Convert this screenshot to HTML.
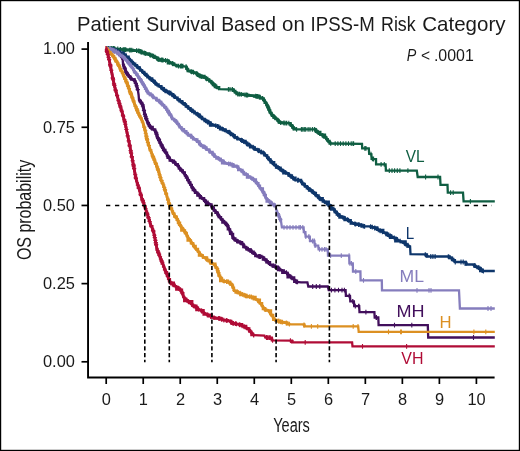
<!DOCTYPE html>
<html><head><meta charset="utf-8"><style>
html,body{margin:0;padding:0;background:#fff;}
svg{display:block;}
text{font-family:"Liberation Sans",sans-serif;}
</style></head><body>
<svg width="520" height="451" viewBox="0 0 520 451">
<rect x="0" y="0" width="520" height="451" fill="#fff"/>
<rect x="0.6" y="0.6" width="518.8" height="449.8" fill="none" stroke="#000" stroke-width="1.2"/>
<path d="M106.00,48.50 L112.00,49.50 L117.00,52.00 L121.00,55.50 L122.60,58.50M123.00,63.60 L124.30,67.30 L126.20,72.00 L129.00,76.60 L132.70,79.40 L135.00,81.30 L136.40,85.00 L137.80,89.70M139.00,100.00 L142.00,103.00 L143.50,108.00 L144.50,113.00 L146.00,118.00 L148.00,123.00 L150.00,127.00 L153.50,129.40 L156.00,132.00 L157.00,136.00 L159.00,140.00 L160.30,142.90 L163.90,150.00 L167.40,155.30 L171.00,160.60 L174.50,162.40 L178.00,166.00 L180.00,168.50 L183.50,172.40 L187.10,177.70 L190.60,184.80 L194.20,190.20 L199.50,195.50 L204.80,200.80 L210.20,204.30 L215.00,210.50 L218.30,215.00 L221.70,219.40 L225.00,222.70 L227.20,225.00 L229.40,229.40 L231.60,233.80 L233.30,238.30 L236.10,240.50 L239.40,242.10 L242.70,243.80 L244.90,247.10 L248.30,249.30 L251.60,251.60 L255.00,253.80 L256.60,256.00 L261.90,256.90 L265.50,259.60 L270.80,264.90 L276.10,266.70 L281.40,270.20 L286.80,272.90 L291.20,277.30 L296.50,281.80" fill="none" stroke="#420f5c" stroke-width="2.8" stroke-linejoin="round" stroke-linecap="butt"/>
<path d="M106.00,48.50 L108.77,48.50 L108.77,49.50 L112.00,49.50 L114.74,49.50 L114.74,52.00 L117.00,52.00 L118.68,52.00 L118.68,53.75 L119.95,53.75 L119.95,55.50 L121.00,55.50 L121.41,55.50 L121.41,57.00 L122.26,57.00 L122.26,58.50 L122.60,58.50 L123.00,63.60 L123.16,63.60 L123.16,65.45 L123.98,65.45 L123.98,67.30 L124.30,67.30 L124.68,67.30 L124.68,68.87 L125.40,68.87 L125.40,70.43 L125.68,70.43 L125.68,72.00 L126.20,72.00 L126.52,72.00 L126.52,73.53 L127.29,73.53 L127.29,75.07 L128.76,75.07 L128.76,76.60 L129.00,76.60 L130.21,76.60 L130.21,78.00 L131.10,78.00 L131.10,79.40 L132.70,79.40 L134.74,79.40 L134.74,81.30 L135.00,81.30 L135.61,81.30 L135.61,83.15 L136.14,83.15 L136.14,85.00 L136.40,85.00 L136.68,85.00 L136.68,86.57 L136.97,86.57 L136.97,88.13 L137.39,88.13 L137.39,89.70 L137.80,89.70 L138.60,95.00 L139.00,100.00 L139.78,100.00 L139.78,101.50 L140.72,101.50 L140.72,103.00 L142.00,103.00 L142.13,103.00 L142.13,104.67 L142.65,104.67 L142.65,106.33 L143.06,106.33 L143.06,108.00 L143.50,108.00 L143.66,108.00 L143.66,109.67 L143.98,109.67 L143.98,111.33 L144.42,111.33 L144.42,113.00 L144.50,113.00 L144.76,113.00 L144.76,114.67 L145.31,114.67 L145.31,116.33 L145.75,116.33 L145.75,118.00 L146.00,118.00 L146.42,118.00 L146.42,119.67 L146.98,119.67 L146.98,121.33 L147.55,121.33 L147.55,123.00 L148.00,123.00 L148.90,123.00 L148.90,125.00 L149.90,125.00 L149.90,127.00 L150.00,127.00 L152.70,127.00 L152.70,129.40 L153.50,129.40 L155.17,129.40 L155.17,132.00 L156.00,132.00 L156.18,132.00 L156.18,134.00 L156.64,134.00 L156.64,136.00 L157.00,136.00 L157.33,136.00 L157.33,138.00 L158.16,138.00 L158.16,140.00 L159.00,140.00 L159.93,140.00 L159.93,142.90 L160.30,142.90 L160.80,142.90 L160.80,145.27 L162.43,145.27 L162.43,147.63 L163.19,147.63 L163.19,150.00 L163.90,150.00 L165.42,150.00 L165.42,152.65 L167.01,152.65 L167.01,155.30 L167.40,155.30 L167.58,155.30 L167.58,157.95 L169.68,157.95 L169.68,160.60 L171.00,160.60 L173.90,160.60 L173.90,162.40 L174.50,162.40 L175.33,162.40 L175.33,164.20 L177.80,164.20 L177.80,166.00 L178.00,166.00 L178.84,166.00 L178.84,168.50 L180.00,168.50 L180.28,168.50 L180.28,170.45 L182.81,170.45 L182.81,172.40 L183.50,172.40 L184.80,172.40 L184.80,175.05 L185.87,175.05 L185.87,177.70 L187.10,177.70 L187.30,177.70 L187.30,180.07 L188.69,180.07 L188.69,182.43 L190.45,182.43 L190.45,184.80 L190.60,184.80 L191.87,184.80 L191.87,187.50 L192.75,187.50 L192.75,190.20 L194.20,190.20 L194.99,190.20 L194.99,192.85 L197.33,192.85 L197.33,195.50 L199.50,195.50 L199.89,195.50 L199.89,198.15 L204.10,198.15 L204.10,200.80 L204.80,200.80 L206.11,200.80 L206.11,204.30 L210.20,204.30 L211.51,204.30 L211.51,207.40 L213.70,207.40 L213.70,210.50 L215.00,210.50 L215.42,210.50 L215.42,212.75 L217.78,212.75 L217.78,215.00 L218.30,215.00 L218.65,215.00 L218.65,217.20 L221.05,217.20 L221.05,219.40 L221.70,219.40 L222.34,219.40 L222.34,222.70 L225.00,222.70 L225.96,222.70 L225.96,225.00 L227.20,225.00 L227.79,225.00 L227.79,229.40 L229.40,229.40 L230.09,229.40 L230.09,233.80 L231.60,233.80 L233.09,233.80 L233.09,238.30 L233.30,238.30 L235.38,238.30 L235.38,240.50 L236.10,240.50 L237.23,240.50 L237.23,242.10 L239.40,242.10 L242.07,242.10 L242.07,243.80 L242.70,243.80 L243.29,243.80 L243.29,247.10 L244.90,247.10 L246.31,247.10 L246.31,249.30 L248.30,249.30 L250.89,249.30 L250.89,251.60 L251.60,251.60 L253.69,251.60 L253.69,253.80 L255.00,253.80 L255.29,253.80 L255.29,256.00 L256.60,256.00 L261.32,256.00 L261.32,256.90 L261.90,256.90 L262.87,256.90 L262.87,259.60 L265.50,259.60 L266.31,259.60 L266.31,262.25 L270.05,262.25 L270.05,264.90 L270.80,264.90 L272.72,264.90 L272.72,266.70 L276.10,266.70 L277.89,266.70 L277.89,270.20 L281.40,270.20 L282.26,270.20 L282.26,272.90 L286.80,272.90 L287.56,272.90 L287.56,277.30 L291.20,277.30 L294.20,277.30 L294.20,281.80 L296.50,281.80 L301.00,282.30 L307.40,282.30 L308.30,286.50 L327.80,286.50 L328.70,290.10 L345.60,290.10 L345.90,295.90 L350.00,295.90 L350.30,301.30 L353.90,301.30 L354.20,306.20 L359.20,306.20 L359.50,312.20 L374.40,312.20 L374.70,317.50 L378.30,317.50 L378.60,325.10 L427.80,325.10 L428.20,337.50 L494.80,337.50" fill="none" stroke="#420f5c" stroke-width="2.3" stroke-linejoin="miter" stroke-miterlimit="3"/>
<path d="M106.91,46.25v4.8M109.91,46.75v4.8M106.43,46.17v4.8M109.22,46.64v4.8M112.29,47.24v4.8M114.54,48.37v4.8M112.19,47.19v4.8M117.28,49.84v4.8M117.36,49.92v4.8M118.70,51.09v4.8M119.10,55.87h4.2M122.00,54.98v4.8M123.52,62.67v4.8M123.06,61.37v4.8M122.47,67.98h4.2M124.89,66.35v4.8M122.54,68.15h4.2M125.14,73.71h4.2M124.28,72.29h4.2M124.68,72.95h4.2M130.16,75.08v4.8M131.17,75.84v4.8M130.68,75.47v4.8M134.53,78.51v4.8M134.31,78.33v4.8M133.70,83.43h4.2M136.23,82.14v4.8M135.67,89.61h4.2M136.99,84.57v4.8M134.51,85.71h4.2M141.00,99.60v4.8M141.29,99.89v4.8M140.72,99.32v4.8M140.37,104.57h4.2M140.79,105.97h4.2M144.34,109.80v4.8M141.87,110.37h4.2M143.56,105.90v4.8M145.99,115.57v4.8M142.83,114.42h4.2M143.40,116.34h4.2M144.24,118.84h4.2M146.12,115.89v4.8M144.16,118.65h4.2M147.64,126.49h4.2M146.80,124.80h4.2M149.77,124.13v4.8M150.97,125.27v4.8M151.45,125.60v4.8M155.71,129.30v4.8M155.89,129.49v4.8M154.08,132.70h4.2M154.13,132.93h4.2M154.49,134.36h4.2M155.74,137.68h4.2M158.13,135.87v4.8M156.28,138.76h4.2M157.78,141.96h4.2M160.17,140.21v4.8M161.07,148.56h4.2M159.64,145.73h4.2M160.48,147.40h4.2M158.44,143.38h4.2M162.99,151.80h4.2M161.80,150.00h4.2M162.16,150.54h4.2M163.99,147.74v4.8M165.83,156.09h4.2M166.55,157.14h4.2M167.84,153.55v4.8M172.63,159.04v4.8M172.69,159.07v4.8M174.86,160.37v4.8M175.70,161.23v4.8M175.43,160.95v4.8M178.32,164.00v4.8M183.33,169.81v4.8M181.85,168.16v4.8M180.51,166.67v4.8M181.50,172.54h4.2M187.02,175.19v4.8M183.91,176.09h4.2M187.68,176.49v4.8M188.96,179.08v4.8M186.15,180.04h4.2M189.94,181.06v4.8M193.50,186.75v4.8M191.16,188.80h4.2M190.36,187.60h4.2M194.35,187.95v4.8M195.68,189.28v4.8M195.57,189.17v4.8M197.87,191.47v4.8M199.27,192.87v4.8M204.47,198.07v4.8M204.74,198.34v4.8M204.56,198.16v4.8M201.43,195.03v4.8M206.02,199.19v4.8M205.86,199.09v4.8M205.90,199.12v4.8M208.17,200.58v4.8M214.23,207.11v4.8M212.50,204.87v4.8M213.33,205.95v4.8M214.04,206.86v4.8M217.18,211.07v4.8M218.00,212.19v4.8M217.58,211.62v4.8M219.93,214.70v4.8M218.91,213.39v4.8M220.98,216.07v4.8M224.34,219.64v4.8M224.91,220.21v4.8M223.01,218.31v4.8M227.08,222.48v4.8M226.59,221.97v4.8M225.38,225.56h4.2M229.19,226.58v4.8M227.52,223.24v4.8M228.75,232.29h4.2M228.51,231.81h4.2M231.15,238.17h4.2M232.50,233.77v4.8M232.34,233.35v4.8M233.89,236.36v4.8M234.01,236.45v4.8M236.89,238.48v4.8M238.04,239.04v4.8M240.78,240.41v4.8M239.83,239.92v4.8M241.38,244.97h4.2M243.98,243.33v4.8M248.02,246.72v4.8M246.61,245.80v4.8M250.03,248.10v4.8M248.36,246.94v4.8M252.22,249.60v4.8M251.61,249.21v4.8M255.28,251.78v4.8M260.44,254.25v4.8M259.55,254.10v4.8M258.33,253.89v4.8M263.90,256.00v4.8M264.72,256.62v4.8M268.47,260.17v4.8M266.82,258.52v4.8M266.97,258.67v4.8M269.59,261.29v4.8M268.19,259.89v4.8M274.83,263.87v4.8M275.64,264.14v4.8M273.15,263.30v4.8M278.78,266.07v4.8M278.81,266.09v4.8M279.77,266.72v4.8M284.28,269.24v4.8M283.98,269.09v4.8M286.48,270.34v4.8M290.66,274.36v4.8M290.95,274.65v4.8M287.94,271.64v4.8M296.20,279.14v4.8M295.65,278.68v4.8M291.93,275.52v4.8M291.84,275.45v4.8M296.83,279.44v4.8M297.58,279.52v4.8M296.83,279.44v4.8M349.11,293.50v4.8M349.58,293.50v4.8M352.88,298.90v4.8M352.68,298.90v4.8M358.61,303.80v4.8M359.04,303.80v4.8M355.30,303.80v4.8M376.13,315.10v4.8M376.45,315.10v4.8M312.70,284.10v4.8M316.30,284.10v4.8M319.80,284.10v4.8M331.40,287.70v4.8M334.90,287.70v4.8M338.50,287.70v4.8M342.00,287.70v4.8M344.40,287.70v4.8M365.90,309.80v4.8M394.50,322.70v4.8M411.80,322.70v4.8M473.50,335.10v4.8" stroke="#420f5c" stroke-width="1.1" fill="none"/>
<path d="M112.00,48.30 L120.00,49.30 L129.30,50.00 L138.60,50.80 L145.20,53.30 L153.20,56.00 L158.50,59.50 L166.70,60.60 L172.00,63.30 L177.30,66.30M186.00,66.60 L188.60,71.00 L194.60,72.60 L199.90,75.90 L205.20,77.90 L210.50,81.20 L214.50,85.00 L219.50,89.20M232.40,89.30 L237.70,94.00 L244.80,94.80 L251.90,95.70 L259.00,96.60 L262.60,98.40 L266.10,102.80 L268.80,109.00 L271.40,114.30 L275.00,117.50 L280.30,122.50 L285.60,123.20M290.00,123.20 L293.00,127.50 L296.30,129.30M314.80,129.30 L317.50,131.90 L321.00,134.60 L325.50,137.30 L328.10,140.80 L330.80,143.50" fill="none" stroke="#0f5e42" stroke-width="2.8" stroke-linejoin="round" stroke-linecap="butt"/>
<path d="M106.00,48.50 L112.00,48.30 L114.36,48.30 L114.36,49.30 L120.00,49.30 L125.40,49.30 L125.40,50.00 L129.30,50.00 L133.00,50.00 L133.00,50.80 L138.60,50.80 L141.65,50.80 L141.65,53.30 L145.20,53.30 L148.67,53.30 L148.67,54.65 L151.15,54.65 L151.15,56.00 L153.20,56.00 L154.68,56.00 L154.68,57.75 L157.95,57.75 L157.95,59.50 L158.50,59.50 L160.52,59.50 L160.52,60.60 L166.70,60.60 L167.88,60.60 L167.88,63.30 L172.00,63.30 L174.19,63.30 L174.19,64.80 L176.65,64.80 L176.65,66.30 L177.30,66.30 L181.30,66.00 L186.00,66.60 L186.39,66.60 L186.39,68.80 L187.63,68.80 L187.63,71.00 L188.60,71.00 L192.75,71.00 L192.75,72.60 L194.60,72.60 L196.86,72.60 L196.86,74.25 L197.93,74.25 L197.93,75.90 L199.90,75.90 L204.46,75.90 L204.46,77.90 L205.20,77.90 L207.34,77.90 L207.34,79.55 L209.39,79.55 L209.39,81.20 L210.50,81.20 L211.37,81.20 L211.37,83.10 L212.87,83.10 L212.87,85.00 L214.50,85.00 L214.83,85.00 L214.83,87.10 L219.18,87.10 L219.18,89.20 L219.50,89.20 L227.10,89.30 L232.40,89.30 L232.91,89.30 L232.91,90.87 L235.34,90.87 L235.34,92.43 L236.47,92.43 L236.47,94.00 L237.70,94.00 L243.09,94.00 L243.09,94.80 L244.80,94.80 L248.90,94.80 L248.90,95.70 L251.90,95.70 L254.28,95.70 L254.28,96.60 L259.00,96.60 L259.87,96.60 L259.87,98.40 L262.60,98.40 L263.78,98.40 L263.78,100.60 L264.62,100.60 L264.62,102.80 L266.10,102.80 L266.35,102.80 L266.35,104.87 L267.49,104.87 L267.49,106.93 L268.60,106.93 L268.60,109.00 L268.80,109.00 L269.31,109.00 L269.31,110.77 L269.95,110.77 L269.95,112.53 L271.26,112.53 L271.26,114.30 L271.40,114.30 L271.87,114.30 L271.87,115.90 L273.40,115.90 L273.40,117.50 L275.00,117.50 L275.56,117.50 L275.56,119.17 L277.57,119.17 L277.57,120.83 L278.80,120.83 L278.80,122.50 L280.30,122.50 L281.58,122.50 L281.58,123.20 L285.60,123.20 L290.00,123.20 L290.59,123.20 L290.59,125.35 L292.34,125.35 L292.34,127.50 L293.00,127.50 L293.68,127.50 L293.68,129.30 L296.30,129.30 L314.80,129.30 L315.85,129.30 L315.85,131.90 L317.50,131.90 L320.34,131.90 L320.34,134.60 L321.00,134.60 L324.98,134.60 L324.98,137.30 L325.50,137.30 L326.31,137.30 L326.31,139.05 L327.65,139.05 L327.65,140.80 L328.10,140.80 L329.63,140.80 L329.63,143.50 L330.80,143.50 L362.00,143.80 L362.20,148.40 L368.80,148.40 L369.20,154.00 L371.40,154.20 L371.60,158.90 L376.00,159.10 L376.10,164.30 L385.60,164.30 L385.90,170.60 L416.80,170.60 L417.70,177.00 L440.10,177.00 L440.50,184.90 L447.50,184.90 L447.80,192.60 L463.00,192.60 L463.60,201.30 L494.80,201.30" fill="none" stroke="#0f5e42" stroke-width="2.3" stroke-linejoin="miter" stroke-miterlimit="3"/>
<path d="M110.99,45.93v4.8M106.97,46.07v4.8M108.59,46.01v4.8M114.71,46.24v4.8M113.57,46.10v4.8M114.55,46.22v4.8M117.78,46.62v4.8M112.16,45.92v4.8M124.10,47.21v4.8M120.17,46.91v4.8M123.08,47.13v4.8M125.80,47.34v4.8M124.76,47.26v4.8M120.60,46.95v4.8M136.63,48.23v4.8M138.34,48.38v4.8M130.27,47.68v4.8M131.77,47.81v4.8M129.67,47.63v4.8M136.54,48.22v4.8M139.46,48.72v4.8M141.39,49.46v4.8M144.62,50.68v4.8M144.01,50.45v4.8M140.31,49.05v4.8M152.55,53.38v4.8M149.76,52.44v4.8M150.80,52.79v4.8M145.92,51.14v4.8M145.66,51.06v4.8M150.71,52.76v4.8M153.58,53.85v4.8M158.17,56.88v4.8M156.56,55.82v4.8M157.45,56.41v4.8M165.52,58.04v4.8M159.05,57.17v4.8M165.57,58.05v4.8M162.22,57.60v4.8M161.28,57.47v4.8M163.04,57.71v4.8M168.12,58.92v4.8M167.38,58.55v4.8M169.49,59.62v4.8M172.58,61.23v4.8M172.86,61.38v4.8M172.27,61.05v4.8M173.07,61.51v4.8M178.52,63.81v4.8M180.34,63.67v4.8M178.46,63.81v4.8M182.14,63.71v4.8M182.93,63.81v4.8M181.39,63.61v4.8M186.04,64.27v4.8M185.33,69.02h4.2M187.23,66.29v4.8M186.28,64.67v4.8M191.57,69.39v4.8M193.61,69.94v4.8M190.96,69.23v4.8M191.64,69.41v4.8M199.81,73.44v4.8M196.42,71.33v4.8M199.01,72.95v4.8M198.35,72.53v4.8M202.04,74.31v4.8M201.74,74.20v4.8M200.19,73.61v4.8M200.59,73.76v4.8M209.13,77.94v4.8M206.55,76.34v4.8M206.07,76.04v4.8M205.65,75.78v4.8M213.98,82.11v4.8M213.18,81.35v4.8M211.63,79.87v4.8M215.97,83.83v4.8M216.80,84.53v4.8M215.29,83.26v4.8M216.73,84.47v4.8M215.82,83.71v4.8M232.25,86.90v4.8M230.00,86.90v4.8M228.40,86.90v4.8M234.04,88.35v4.8M234.29,88.58v4.8M232.41,86.91v4.8M234.42,88.69v4.8M241.27,92.00v4.8M239.13,91.76v4.8M241.28,92.00v4.8M237.74,91.60v4.8M239.58,91.81v4.8M247.64,92.76v4.8M245.10,92.44v4.8M244.96,92.42v4.8M246.96,92.67v4.8M246.45,92.61v4.8M255.66,93.78v4.8M257.23,93.98v4.8M256.57,93.89v4.8M256.98,93.94v4.8M258.14,94.09v4.8M260.17,94.79v4.8M262.55,95.97v4.8M259.54,94.47v4.8M264.85,98.83v4.8M262.75,96.19v4.8M265.52,99.68v4.8M267.79,104.29v4.8M266.19,107.84h4.2M265.41,106.05h4.2M268.35,105.58v4.8M270.32,109.70v4.8M268.48,112.62h4.2M267.30,110.22h4.2M267.05,109.71h4.2M274.41,114.57v4.8M273.41,113.69v4.8M273.66,113.91v4.8M273.65,113.90v4.8M277.59,117.55v4.8M275.02,115.12v4.8M279.23,119.09v4.8M278.97,118.84v4.8M277.67,117.61v4.8M283.79,120.56v4.8M280.65,120.15v4.8M284.20,120.62v4.8M285.93,120.80v4.8M286.77,120.80v4.8M288.81,120.80v4.8M292.22,123.98v4.8M289.38,125.32h4.2M289.34,125.26h4.2M290.20,126.50h4.2M293.26,125.24v4.8M293.49,125.37v4.8M316.81,128.83v4.8M315.62,127.69v4.8M316.33,128.38v4.8M317.71,129.66v4.8M318.44,130.23v4.8M319.85,131.31v4.8M324.04,134.02v4.8M322.31,132.99v4.8M323.32,133.59v4.8M326.71,136.53v4.8M325.81,135.31v4.8M327.82,138.03v4.8M330.74,141.04v4.8M330.63,140.93v4.8M328.15,138.45v4.8M371.00,151.76v4.8M373.58,156.59v4.8M372.78,156.55v4.8M296.60,126.90v4.8M301.40,126.90v4.8M302.80,126.90v4.8M304.30,126.90v4.8M305.70,126.90v4.8M308.10,126.90v4.8M310.00,126.90v4.8M312.40,126.90v4.8M314.40,126.90v4.8M353.60,141.32v4.8M364.80,146.00v4.8M366.00,146.00v4.8M372.40,156.54v4.8M381.10,161.90v4.8M384.30,161.90v4.8M335.20,141.14v4.8M337.90,141.17v4.8M340.50,141.19v4.8M343.20,141.22v4.8M345.90,141.25v4.8M348.50,141.27v4.8M351.20,141.30v4.8M353.00,141.31v4.8M389.30,168.20v4.8M392.00,168.20v4.8M394.60,168.20v4.8M397.30,168.20v4.8M399.90,168.20v4.8M407.90,168.20v4.8M425.60,174.60v4.8M438.00,174.60v4.8M450.60,190.20v4.8M453.20,190.20v4.8M470.40,198.90v4.8" stroke="#0f5e42" stroke-width="1.1" fill="none"/>
<path d="M106.00,48.50 L113.30,49.50 L119.00,51.50 L124.00,54.50 L129.00,58.90 L133.60,63.60 L138.30,67.30 L142.90,72.00 L146.70,75.70 L150.00,78.50 L153.00,80.80 L157.10,84.50 L164.20,89.80 L171.30,94.20 L178.40,99.50 L185.50,104.80 L190.80,110.00 L197.90,114.60 L203.30,119.00 L208.90,123.00 L216.00,125.70 L223.10,129.30 L230.20,132.80 L235.50,137.30 L242.60,140.80 L249.70,145.20 L256.80,149.70 L263.90,153.20 L269.30,159.50 L274.70,165.00 L281.90,170.30 L287.30,173.30 L292.60,177.70 L296.10,180.40M299.70,180.00 L303.20,184.00 L308.50,188.40 L313.90,192.80 L319.20,198.10 L324.50,201.70 L329.50,205.50 L334.20,209.50 L337.70,214.50 L343.10,217.50 L348.40,220.20 L353.70,223.70 L359.00,224.60 L364.30,226.40M369.70,226.40 L373.20,227.30 L378.50,229.90 L383.90,232.60 L389.20,235.20 L394.50,237.90 L400.60,241.40 L406.90,244.60 L410.10,246.70M425.00,254.40 L427.90,256.50M448.10,256.50 L451.00,258.00 L453.90,260.20 L455.30,262.00M465.40,262.00 L466.80,264.50M474.00,264.50 L475.50,266.60 L479.80,268.10 L482.70,271.00" fill="none" stroke="#0e366b" stroke-width="2.8" stroke-linejoin="round" stroke-linecap="butt"/>
<path d="M106.00,48.50 L107.55,48.50 L107.55,49.50 L113.30,49.50 L114.03,49.50 L114.03,51.50 L119.00,51.50 L119.29,51.50 L119.29,53.00 L123.57,53.00 L123.57,54.50 L124.00,54.50 L125.65,54.50 L125.65,56.70 L128.68,56.70 L128.68,58.90 L129.00,58.90 L129.18,58.90 L129.18,60.47 L131.47,60.47 L131.47,62.03 L132.81,62.03 L132.81,63.60 L133.60,63.60 L135.21,63.60 L135.21,65.45 L136.78,65.45 L136.78,67.30 L138.30,67.30 L139.68,67.30 L139.68,68.87 L140.08,68.87 L140.08,70.43 L142.19,70.43 L142.19,72.00 L142.90,72.00 L144.21,72.00 L144.21,73.85 L146.36,73.85 L146.36,75.70 L146.70,75.70 L147.84,75.70 L147.84,77.10 L149.44,77.10 L149.44,78.50 L150.00,78.50 L152.20,78.50 L152.20,80.80 L153.00,80.80 L154.71,80.80 L154.71,82.65 L155.83,82.65 L155.83,84.50 L157.10,84.50 L158.63,84.50 L158.63,86.27 L161.41,86.27 L161.41,88.03 L163.72,88.03 L163.72,89.80 L164.20,89.80 L165.74,89.80 L165.74,92.00 L170.35,92.00 L170.35,94.20 L171.30,94.20 L173.17,94.20 L173.17,95.97 L174.99,95.97 L174.99,97.73 L177.45,97.73 L177.45,99.50 L178.40,99.50 L179.36,99.50 L179.36,101.27 L182.11,101.27 L182.11,103.03 L184.52,103.03 L184.52,104.80 L185.50,104.80 L185.79,104.80 L185.79,106.53 L188.35,106.53 L188.35,108.27 L190.61,108.27 L190.61,110.00 L190.80,110.00 L192.70,110.00 L192.70,111.53 L194.78,111.53 L194.78,113.07 L196.51,113.07 L196.51,114.60 L197.90,114.60 L199.76,114.60 L199.76,116.80 L202.12,116.80 L202.12,119.00 L203.30,119.00 L204.57,119.00 L204.57,121.00 L208.26,121.00 L208.26,123.00 L208.90,123.00 L210.09,123.00 L210.09,125.70 L216.00,125.70 L218.49,125.70 L218.49,127.50 L219.99,127.50 L219.99,129.30 L223.10,129.30 L225.16,129.30 L225.16,131.05 L228.37,131.05 L228.37,132.80 L230.20,132.80 L230.95,132.80 L230.95,135.05 L234.60,135.05 L234.60,137.30 L235.50,137.30 L237.27,137.30 L237.27,139.05 L241.15,139.05 L241.15,140.80 L242.60,140.80 L245.57,140.80 L245.57,143.00 L247.23,143.00 L247.23,145.20 L249.70,145.20 L250.09,145.20 L250.09,147.45 L254.46,147.45 L254.46,149.70 L256.80,149.70 L259.08,149.70 L259.08,151.45 L261.28,151.45 L261.28,153.20 L263.90,153.20 L264.32,153.20 L264.32,155.30 L267.18,155.30 L267.18,157.40 L268.63,157.40 L268.63,159.50 L269.30,159.50 L270.52,159.50 L270.52,162.25 L274.20,162.25 L274.20,165.00 L274.70,165.00 L276.00,165.00 L276.00,167.65 L280.58,167.65 L280.58,170.30 L281.90,170.30 L283.30,170.30 L283.30,173.30 L287.30,173.30 L288.48,173.30 L288.48,175.50 L291.92,175.50 L291.92,177.70 L292.60,177.70 L295.51,177.70 L295.51,180.40 L296.10,180.40 L299.70,180.00 L301.11,180.00 L301.11,182.00 L302.16,182.00 L302.16,184.00 L303.20,184.00 L304.70,184.00 L304.70,186.20 L306.79,186.20 L306.79,188.40 L308.50,188.40 L309.06,188.40 L309.06,190.60 L312.54,190.60 L312.54,192.80 L313.90,192.80 L315.94,192.80 L315.94,195.45 L318.61,195.45 L318.61,198.10 L319.20,198.10 L322.75,198.10 L322.75,201.70 L324.50,201.70 L328.80,201.70 L328.80,205.50 L329.50,205.50 L331.01,205.50 L331.01,209.50 L334.20,209.50 L334.61,209.50 L334.61,212.00 L336.76,212.00 L336.76,214.50 L337.70,214.50 L339.43,214.50 L339.43,217.50 L343.10,217.50 L344.54,217.50 L344.54,220.20 L348.40,220.20 L350.69,220.20 L350.69,223.70 L353.70,223.70 L356.88,223.70 L356.88,224.60 L359.00,224.60 L361.62,224.60 L361.62,226.40 L364.30,226.40 L369.70,226.40 L370.93,226.40 L370.93,227.30 L373.20,227.30 L377.29,227.30 L377.29,229.90 L378.50,229.90 L383.28,229.90 L383.28,232.60 L383.90,232.60 L386.35,232.60 L386.35,235.20 L389.20,235.20 L390.05,235.20 L390.05,237.90 L394.50,237.90 L395.26,237.90 L395.26,241.40 L400.60,241.40 L405.63,241.40 L405.63,244.60 L406.90,244.60 L407.33,244.60 L407.33,246.70 L410.10,246.70 L410.50,254.20 L425.00,254.40 L426.93,254.40 L426.93,256.50 L427.90,256.50 L448.10,256.50 L449.71,256.50 L449.71,258.00 L451.00,258.00 L452.01,258.00 L452.01,260.20 L453.90,260.20 L454.93,260.20 L454.93,262.00 L455.30,262.00 L465.40,262.00 L465.56,262.00 L465.56,264.50 L466.80,264.50 L474.00,264.50 L474.31,264.50 L474.31,266.60 L475.50,266.60 L477.49,266.60 L477.49,268.10 L479.80,268.10 L480.15,268.10 L480.15,271.00 L482.70,271.00 L494.80,271.00" fill="none" stroke="#0e366b" stroke-width="2.3" stroke-linejoin="miter" stroke-miterlimit="3"/>
<path d="M112.90,47.05v4.8M107.54,46.31v4.8M110.24,46.68v4.8M107.03,46.24v4.8M109.83,46.62v4.8M114.06,47.37v4.8M117.98,48.74v4.8M116.20,48.12v4.8M122.52,51.21v4.8M120.16,49.79v4.8M123.49,51.79v4.8M124.12,52.21v4.8M124.02,52.12v4.8M126.46,54.26v4.8M126.25,54.08v4.8M129.65,57.16v4.8M130.58,58.12v4.8M130.45,57.99v4.8M132.87,60.45v4.8M137.13,63.98v4.8M137.54,64.30v4.8M134.16,61.64v4.8M137.95,64.63v4.8M142.45,69.14v4.8M139.63,66.26v4.8M140.01,66.65v4.8M140.11,66.75v4.8M145.14,71.78v4.8M144.27,70.93v4.8M144.53,71.18v4.8M146.86,73.44v4.8M147.04,73.58v4.8M149.45,75.64v4.8M152.81,78.25v4.8M150.75,76.67v4.8M155.09,80.29v4.8M153.78,79.10v4.8M154.53,79.78v4.8M156.92,81.94v4.8M162.86,86.40v4.8M161.58,85.44v4.8M163.59,86.94v4.8M163.78,87.09v4.8M161.00,85.01v4.8M164.55,87.62v4.8M169.40,90.62v4.8M167.40,89.38v4.8M169.54,90.71v4.8M168.78,90.24v4.8M171.65,92.06v4.8M177.88,96.71v4.8M172.20,92.47v4.8M174.65,94.30v4.8M173.74,93.62v4.8M173.41,93.38v4.8M185.33,102.27v4.8M180.25,98.48v4.8M183.06,100.58v4.8M180.54,98.69v4.8M182.36,100.05v4.8M186.39,103.27v4.8M186.36,103.24v4.8M186.60,103.48v4.8M190.30,107.11v4.8M188.13,104.98v4.8M197.23,111.77v4.8M197.87,112.18v4.8M193.99,109.67v4.8M191.79,108.24v4.8M192.17,108.49v4.8M199.75,113.70v4.8M198.39,112.60v4.8M199.19,113.25v4.8M199.30,113.34v4.8M200.98,114.71v4.8M207.50,119.60v4.8M205.61,118.25v4.8M205.62,118.26v4.8M206.24,118.70v4.8M211.30,121.51v4.8M209.34,120.77v4.8M210.87,121.35v4.8M215.77,123.21v4.8M209.79,120.94v4.8M220.47,125.57v4.8M222.13,126.41v4.8M217.53,124.08v4.8M217.92,124.28v4.8M217.76,124.19v4.8M226.27,128.46v4.8M229.87,130.24v4.8M229.13,129.87v4.8M229.30,129.96v4.8M223.25,126.98v4.8M233.96,133.59v4.8M234.95,134.43v4.8M232.71,132.53v4.8M233.31,133.04v4.8M230.20,130.40v4.8M242.08,138.14v4.8M241.36,137.79v4.8M241.57,137.89v4.8M242.40,138.30v4.8M237.26,135.77v4.8M243.70,139.08v4.8M246.31,140.70v4.8M247.44,141.40v4.8M249.28,142.54v4.8M247.72,141.58v4.8M255.13,146.24v4.8M252.95,144.86v4.8M253.62,145.28v4.8M249.98,142.98v4.8M255.25,146.32v4.8M263.33,150.52v4.8M261.38,149.56v4.8M258.96,148.36v4.8M257.71,147.75v4.8M258.59,148.18v4.8M267.67,155.20v4.8M264.51,151.51v4.8M264.28,151.24v4.8M266.73,154.10v4.8M267.05,154.47v4.8M270.51,158.33v4.8M272.55,160.41v4.8M269.36,157.16v4.8M270.93,158.76v4.8M271.79,159.63v4.8M279.34,166.02v4.8M281.06,167.28v4.8M278.12,165.12v4.8M276.39,163.84v4.8M276.48,163.91v4.8M285.71,170.01v4.8M283.56,168.82v4.8M282.02,167.97v4.8M290.87,173.87v4.8M289.53,172.75v4.8M288.66,172.03v4.8M290.84,173.84v4.8M293.39,175.91v4.8M292.72,175.39v4.8M297.61,177.83v4.8M298.56,177.73v4.8M302.49,180.79v4.8M302.29,180.56v4.8M301.47,179.62v4.8M308.34,185.87v4.8M304.85,182.97v4.8M307.55,185.21v4.8M304.42,182.62v4.8M312.61,189.35v4.8M310.09,187.30v4.8M313.64,190.19v4.8M311.18,188.18v4.8M315.08,191.58v4.8M316.11,192.61v4.8M317.43,193.93v4.8M318.93,195.43v4.8M314.68,191.18v4.8M320.33,196.47v4.8M324.36,199.21v4.8M319.95,196.21v4.8M319.47,195.89v4.8M326.47,200.79v4.8M328.99,202.71v4.8M328.92,202.66v4.8M328.16,202.08v4.8M333.88,206.83v4.8M331.05,204.42v4.8M330.37,203.84v4.8M334.71,213.23h4.2M334.43,212.82h4.2M333.41,211.37h4.2M337.72,212.11v4.8M339.21,212.94v4.8M339.60,213.15v4.8M342.86,214.97v4.8M348.21,217.70v4.8M344.20,215.66v4.8M344.99,216.06v4.8M347.45,217.32v4.8M350.69,219.31v4.8M348.66,217.97v4.8M350.91,219.46v4.8M358.57,222.13v4.8M354.72,221.47v4.8M355.63,221.63v4.8M359.16,222.25v4.8M361.18,222.94v4.8M363.30,223.66v4.8M364.52,224.00v4.8M364.49,224.00v4.8M364.64,224.00v4.8M370.60,224.23v4.8M372.32,224.67v4.8M375.00,225.78v4.8M374.64,225.61v4.8M378.28,227.39v4.8M379.92,228.21v4.8M382.37,229.43v4.8M380.21,228.35v4.8M379.99,228.24v4.8M387.90,232.16v4.8M388.76,232.58v4.8M387.26,231.85v4.8M388.90,232.65v4.8M390.44,233.43v4.8M391.72,234.08v4.8M394.27,235.38v4.8M394.26,235.38v4.8M396.03,236.38v4.8M397.12,237.00v4.8M397.51,237.23v4.8M400.16,238.75v4.8M405.66,241.57v4.8M405.25,241.36v4.8M405.78,241.63v4.8M405.47,241.47v4.8M404.43,240.94v4.8M407.92,242.87v4.8M408.06,242.96v4.8M425.23,252.17v4.8M425.57,252.41v4.8M448.82,254.47v4.8M448.29,254.20v4.8M452.60,256.82v4.8M451.94,256.32v4.8M453.84,257.76v4.8M455.28,259.58v4.8M463.42,262.21h4.2M466.10,260.85v4.8M472.25,264.99h4.2M472.83,265.80h4.2M479.14,265.47v4.8M478.36,265.20v4.8M482.24,268.14v4.8M480.65,266.55v4.8M481.44,267.34v4.8M430.80,254.10v4.8M432.90,254.10v4.8M435.10,254.10v4.8M448.80,254.46v4.8M461.00,259.60v4.8M463.20,259.60v4.8M474.80,263.22v4.8M483.40,268.60v4.8" stroke="#0e366b" stroke-width="1.1" fill="none"/>
<path d="M106.00,48.50 L112.00,49.50 L117.00,52.00 L122.00,56.00 L125.20,58.90 L129.00,63.60 L132.70,68.20 L135.50,72.90 L139.20,77.60 L142.00,82.20 L144.80,86.90 L146.70,90.60 L148.50,93.40 L151.00,95.00 L155.00,98.00 L160.00,102.00 L165.00,107.00 L169.00,113.00 L173.00,119.00 L176.50,122.00 L181.90,129.20 L189.00,135.00 L197.90,141.50 L200.00,144.30 L205.30,147.50 L210.60,152.00 L216.00,156.80 L221.30,160.30 L226.10,163.30 L231.40,164.40 L236.80,166.50 L240.50,170.00 L245.80,174.30 L251.00,177.70 L253.50,179.50 L257.10,183.10 L260.60,188.40 L263.30,191.90 L266.00,198.10 L269.50,201.70 L273.10,204.30 L275.70,206.10M276.60,211.40 L279.30,216.80 L281.00,221.20" fill="none" stroke="#857dbd" stroke-width="2.8" stroke-linejoin="round" stroke-linecap="butt"/>
<path d="M106.00,48.50 L110.58,48.50 L110.58,49.50 L112.00,49.50 L113.45,49.50 L113.45,52.00 L117.00,52.00 L117.53,52.00 L117.53,54.00 L119.84,54.00 L119.84,56.00 L122.00,56.00 L122.97,56.00 L122.97,57.45 L124.33,57.45 L124.33,58.90 L125.20,58.90 L125.97,58.90 L125.97,60.47 L127.26,60.47 L127.26,62.03 L128.68,62.03 L128.68,63.60 L129.00,63.60 L130.07,63.60 L130.07,65.13 L131.03,65.13 L131.03,66.67 L131.79,66.67 L131.79,68.20 L132.70,68.20 L133.15,68.20 L133.15,69.77 L133.86,69.77 L133.86,71.33 L134.67,71.33 L134.67,72.90 L135.50,72.90 L136.09,72.90 L136.09,74.47 L137.56,74.47 L137.56,76.03 L138.27,76.03 L138.27,77.60 L139.20,77.60 L139.50,77.60 L139.50,79.13 L140.48,79.13 L140.48,80.67 L141.68,80.67 L141.68,82.20 L142.00,82.20 L142.48,82.20 L142.48,83.77 L143.49,83.77 L143.49,85.33 L144.52,85.33 L144.52,86.90 L144.80,86.90 L145.19,86.90 L145.19,88.75 L146.45,88.75 L146.45,90.60 L146.70,90.60 L147.44,90.60 L147.44,92.00 L147.75,92.00 L147.75,93.40 L148.50,93.40 L150.62,93.40 L150.62,95.00 L151.00,95.00 L152.36,95.00 L152.36,96.50 L153.41,96.50 L153.41,98.00 L155.00,98.00 L156.16,98.00 L156.16,100.00 L159.00,100.00 L159.00,102.00 L160.00,102.00 L161.38,102.00 L161.38,103.67 L162.34,103.67 L162.34,105.33 L164.26,105.33 L164.26,107.00 L165.00,107.00 L166.07,107.00 L166.07,109.00 L167.32,109.00 L167.32,111.00 L168.81,111.00 L168.81,113.00 L169.00,113.00 L169.63,113.00 L169.63,115.00 L171.16,115.00 L171.16,117.00 L172.02,117.00 L172.02,119.00 L173.00,119.00 L174.19,119.00 L174.19,120.50 L176.07,120.50 L176.07,122.00 L176.50,122.00 L177.33,122.00 L177.33,123.80 L178.76,123.80 L178.76,125.60 L179.57,125.60 L179.57,127.40 L181.66,127.40 L181.66,129.20 L181.90,129.20 L183.99,129.20 L183.99,131.13 L186.35,131.13 L186.35,133.07 L187.89,133.07 L187.89,135.00 L189.00,135.00 L191.17,135.00 L191.17,137.17 L193.02,137.17 L193.02,139.33 L197.39,139.33 L197.39,141.50 L197.90,141.50 L199.55,141.50 L199.55,144.30 L200.00,144.30 L201.00,144.30 L201.00,145.90 L203.09,145.90 L203.09,147.50 L205.30,147.50 L206.50,147.50 L206.50,149.75 L209.38,149.75 L209.38,152.00 L210.60,152.00 L212.53,152.00 L212.53,154.40 L214.62,154.40 L214.62,156.80 L216.00,156.80 L216.33,156.80 L216.33,158.55 L220.63,158.55 L220.63,160.30 L221.30,160.30 L222.03,160.30 L222.03,163.30 L226.10,163.30 L230.02,163.30 L230.02,164.40 L231.40,164.40 L232.69,164.40 L232.69,166.50 L236.80,166.50 L238.16,166.50 L238.16,170.00 L240.50,170.00 L242.44,170.00 L242.44,172.15 L243.71,172.15 L243.71,174.30 L245.80,174.30 L246.94,174.30 L246.94,177.70 L251.00,177.70 L252.28,177.70 L252.28,179.50 L253.50,179.50 L255.94,179.50 L255.94,183.10 L257.10,183.10 L258.45,183.10 L258.45,185.75 L259.99,185.75 L259.99,188.40 L260.60,188.40 L262.91,188.40 L262.91,191.90 L263.30,191.90 L263.97,191.90 L263.97,195.00 L265.81,195.00 L265.81,198.10 L266.00,198.10 L266.59,198.10 L266.59,201.70 L269.50,201.70 L270.50,201.70 L270.50,204.30 L273.10,204.30 L274.46,204.30 L274.46,206.10 L275.70,206.10 L276.60,211.40 L277.05,211.40 L277.05,214.10 L278.87,214.10 L278.87,216.80 L279.30,216.80 L279.82,216.80 L279.82,219.00 L280.59,219.00 L280.59,221.20 L281.00,221.20 L281.90,227.30 L303.60,227.30 L303.80,232.20 L305.40,232.20 L305.60,236.60 L309.80,236.60 L310.00,241.00 L314.40,241.00 L314.80,245.30 L318.20,245.60 L318.60,249.30 L327.80,249.30 L328.00,255.60 L349.20,255.60 L349.40,263.30 L352.80,263.30 L353.00,271.50 L360.40,271.50 L360.60,280.40 L381.80,280.40 L382.00,290.30 L459.00,290.30 L459.90,308.50 L494.80,308.50" fill="none" stroke="#857dbd" stroke-width="2.3" stroke-linejoin="miter" stroke-miterlimit="3"/>
<path d="M110.43,46.84v4.8M107.20,46.30v4.8M107.48,46.35v4.8M112.77,47.48v4.8M116.42,49.31v4.8M114.89,48.55v4.8M118.98,51.18v4.8M121.96,53.57v4.8M119.54,51.63v4.8M118.16,50.53v4.8M124.09,55.49v4.8M125.17,56.47v4.8M127.00,58.73v4.8M128.31,60.35v4.8M128.39,60.45v4.8M128.67,60.80v4.8M130.09,62.55v4.8M129.44,61.75v4.8M129.70,62.07v4.8M132.60,65.68v4.8M133.20,72.57h4.2M133.03,72.27h4.2M133.43,67.02v4.8M135.89,71.00v4.8M137.71,73.30v4.8M137.79,73.41v4.8M138.13,79.30h4.2M137.67,78.54h4.2M138.78,80.36h4.2M139.93,82.25h4.2M141.80,85.39h4.2M140.77,83.67h4.2M143.74,88.93h4.2M142.89,87.28h4.2M145.75,92.39h4.2M144.89,91.06h4.2M149.21,91.45v4.8M149.27,91.49v4.8M152.25,93.54v4.8M153.27,94.30v4.8M157.08,97.27v4.8M159.32,99.06v4.8M159.98,99.59v4.8M156.82,97.06v4.8M163.64,103.24v4.8M161.02,100.62v4.8M160.03,99.63v4.8M164.51,104.11v4.8M166.18,111.92h4.2M166.43,112.30h4.2M163.55,107.98h4.2M165.11,110.31h4.2M167.26,113.53h4.2M168.38,115.23h4.2M167.48,113.88h4.2M171.08,113.73v4.8M174.72,118.07v4.8M175.82,119.01v4.8M176.38,119.50v4.8M177.18,120.51v4.8M181.59,126.39v4.8M181.77,126.62v4.8M179.11,123.08v4.8M176.79,119.98v4.8M184.65,129.05v4.8M188.32,132.04v4.8M186.30,130.40v4.8M187.75,131.58v4.8M183.04,127.73v4.8M190.98,134.04v4.8M192.60,135.23v4.8M196.53,138.10v4.8M196.38,137.99v4.8M190.63,133.79v4.8M190.94,134.02v4.8M198.99,140.55v4.8M198.71,140.17v4.8M201.31,142.69v4.8M203.84,144.22v4.8M204.76,144.77v4.8M200.22,142.03v4.8M209.31,148.51v4.8M205.50,145.27v4.8M209.74,148.87v4.8M205.92,145.63v4.8M213.57,152.24v4.8M213.99,152.61v4.8M212.25,151.07v4.8M212.87,151.62v4.8M218.26,155.89v4.8M219.49,156.71v4.8M218.37,155.96v4.8M221.41,157.97v4.8M224.27,159.76v4.8M223.65,159.37v4.8M230.15,161.74v4.8M230.23,161.76v4.8M228.53,161.40v4.8M233.96,162.99v4.8M231.98,162.22v4.8M232.09,162.27v4.8M233.73,162.90v4.8M238.44,165.65v4.8M238.69,165.89v4.8M236.95,164.24v4.8M240.94,167.95v4.8M244.39,170.75v4.8M244.62,170.94v4.8M243.21,169.80v4.8M248.42,173.61v4.8M247.76,173.18v4.8M250.74,175.13v4.8M246.51,172.36v4.8M253.49,177.09v4.8M256.43,180.03v4.8M254.20,177.80v4.8M257.03,180.63v4.8M260.45,185.77v4.8M257.68,181.58v4.8M258.26,188.03h4.2M258.33,182.56v4.8M263.02,189.14v4.8M261.34,186.96v4.8M262.80,188.85v4.8M264.66,192.61v4.8M261.76,193.19h4.2M262.57,195.04h4.2M261.30,192.13h4.2M269.28,199.07v4.8M268.38,198.15v4.8M269.13,198.92v4.8M272.33,201.34v4.8M269.91,199.60v4.8M271.41,200.68v4.8M274.04,202.55v4.8M275.37,203.47v4.8M278.17,212.13v4.8M276.88,209.56v4.8M276.20,214.80h4.2M279.75,215.56v4.8M278.18,219.34h4.2M304.51,229.80v4.8M308.72,234.20v4.8M305.80,234.20v4.8M309.04,234.20v4.8M312.81,238.60v4.8M314.33,238.60v4.8M312.58,238.60v4.8M315.86,242.99v4.8M314.81,242.90v4.8M349.91,260.90v4.8M351.49,260.90v4.8M284.00,224.90v4.8M287.00,224.90v4.8M290.00,224.90v4.8M293.00,224.90v4.8M296.00,224.90v4.8M299.00,224.90v4.8M300.40,224.90v4.8M302.80,224.90v4.8M319.50,246.90v4.8M322.00,246.90v4.8M324.50,246.90v4.8M326.00,246.90v4.8M330.60,253.20v4.8M341.30,253.20v4.8M349.10,253.20v4.8M355.80,269.10v4.8M363.50,278.00v4.8M417.00,287.90v4.8M429.00,287.90v4.8M431.00,287.90v4.8M488.00,306.10v4.8M491.00,306.10v4.8" stroke="#857dbd" stroke-width="1.1" fill="none"/>
<path d="M106.00,48.50 L113.30,56.00 L118.60,65.30 L123.30,74.60 L127.30,83.90 L130.60,93.20 L134.60,103.90 L138.10,112.70 L142.60,121.60 L145.20,130.50 L147.00,139.30 L149.70,148.20 L153.20,157.10 L156.80,166.00 L158.10,170.00 L160.80,178.90 L164.30,187.70 L167.00,196.60 L169.80,206.20 L173.90,213.90 L177.20,219.40 L180.50,226.10 L184.40,230.50 L187.20,236.00 L190.50,240.50 L193.80,246.00 L198.30,251.60 L201.60,255.50 L204.00,257.30 L208.30,260.40 L212.70,263.60 L216.90,267.70 L219.50,275.70 L223.10,281.00 L228.40,281.90 L231.90,284.60 L234.60,290.80 L239.00,292.60 L244.30,295.20 L251.40,297.00 L256.80,299.70 L260.30,303.20 L264.60,309.20 L268.10,310.40 L271.50,315.00 L275.10,319.80 L279.50,321.60 L284.80,322.50 L290.20,324.30M303.50,324.30 L305.20,326.40" fill="none" stroke="#dc9022" stroke-width="2.8" stroke-linejoin="round" stroke-linecap="butt"/>
<path d="M106.00,48.50 L107.41,48.50 L107.41,50.38 L108.83,50.38 L108.83,52.25 L110.29,52.25 L110.29,54.12 L112.21,54.12 L112.21,56.00 L113.30,56.00 L114.12,56.00 L114.12,57.86 L115.23,57.86 L115.23,59.72 L115.70,59.72 L115.70,61.58 L117.31,61.58 L117.31,63.44 L118.47,63.44 L118.47,65.30 L118.60,65.30 L119.09,65.30 L119.09,67.16 L120.06,67.16 L120.06,69.02 L120.73,69.02 L120.73,70.88 L121.92,70.88 L121.92,72.74 L122.83,72.74 L122.83,74.60 L123.30,74.60 L123.77,74.60 L123.77,76.46 L124.20,76.46 L124.20,78.32 L125.60,78.32 L125.60,80.18 L126.11,80.18 L126.11,82.04 L126.84,82.04 L126.84,83.90 L127.30,83.90 L127.79,83.90 L127.79,85.76 L128.32,85.76 L128.32,87.62 L128.95,87.62 L128.95,89.48 L129.71,89.48 L129.71,91.34 L130.04,91.34 L130.04,93.20 L130.60,93.20 L130.95,93.20 L130.95,94.98 L131.55,94.98 L131.55,96.77 L132.51,96.77 L132.51,98.55 L133.16,98.55 L133.16,100.33 L133.48,100.33 L133.48,102.12 L134.25,102.12 L134.25,103.90 L134.60,103.90 L134.74,103.90 L134.74,105.66 L135.61,105.66 L135.61,107.42 L136.53,107.42 L136.53,109.18 L137.27,109.18 L137.27,110.94 L137.74,110.94 L137.74,112.70 L138.10,112.70 L138.42,112.70 L138.42,114.48 L139.23,114.48 L139.23,116.26 L140.43,116.26 L140.43,118.04 L141.56,118.04 L141.56,119.82 L141.88,119.82 L141.88,121.60 L142.60,121.60 L142.98,121.60 L142.98,123.38 L143.18,123.38 L143.18,125.16 L143.77,125.16 L143.77,126.94 L144.31,126.94 L144.31,128.72 L145.02,128.72 L145.02,130.50 L145.20,130.50 L145.36,130.50 L145.36,132.70 L145.82,132.70 L145.82,134.90 L146.37,134.90 L146.37,137.10 L146.63,137.10 L146.63,139.30 L147.00,139.30 L147.46,139.30 L147.46,141.53 L147.81,141.53 L147.81,143.75 L148.69,143.75 L148.69,145.97 L149.23,145.97 L149.23,148.20 L149.70,148.20 L149.93,148.20 L149.93,150.42 L151.03,150.42 L151.03,152.65 L151.84,152.65 L151.84,154.88 L152.68,154.88 L152.68,157.10 L153.20,157.10 L153.59,157.10 L153.59,159.32 L154.57,159.32 L154.57,161.55 L155.21,161.55 L155.21,163.78 L156.14,163.78 L156.14,166.00 L156.80,166.00 L157.19,166.00 L157.19,168.00 L157.85,168.00 L157.85,170.00 L158.10,170.00 L158.45,170.00 L158.45,172.22 L159.30,172.22 L159.30,174.45 L159.85,174.45 L159.85,176.68 L160.66,176.68 L160.66,178.90 L160.80,178.90 L161.05,178.90 L161.05,181.10 L162.28,181.10 L162.28,183.30 L163.20,183.30 L163.20,185.50 L164.14,185.50 L164.14,187.70 L164.30,187.70 L164.62,187.70 L164.62,190.67 L165.52,190.67 L165.52,193.63 L166.85,193.63 L166.85,196.60 L167.00,196.60 L167.19,196.60 L167.19,199.00 L168.33,199.00 L168.33,201.40 L168.97,201.40 L168.97,203.80 L169.25,203.80 L169.25,206.20 L169.80,206.20 L170.20,206.20 L170.20,208.77 L172.10,208.77 L172.10,211.33 L172.95,211.33 L172.95,213.90 L173.90,213.90 L174.19,213.90 L174.19,216.65 L176.81,216.65 L176.81,219.40 L177.20,219.40 L177.92,219.40 L177.92,222.75 L180.06,222.75 L180.06,226.10 L180.50,226.10 L181.28,226.10 L181.28,230.50 L184.40,230.50 L184.99,230.50 L184.99,233.25 L186.71,233.25 L186.71,236.00 L187.20,236.00 L187.58,236.00 L187.58,240.50 L190.50,240.50 L190.93,240.50 L190.93,243.25 L193.22,243.25 L193.22,246.00 L193.80,246.00 L195.67,246.00 L195.67,248.80 L198.02,248.80 L198.02,251.60 L198.30,251.60 L198.93,251.60 L198.93,255.50 L201.60,255.50 L202.81,255.50 L202.81,257.30 L204.00,257.30 L207.04,257.30 L207.04,260.40 L208.30,260.40 L210.51,260.40 L210.51,263.60 L212.70,263.60 L215.42,263.60 L215.42,267.70 L216.90,267.70 L217.23,267.70 L217.23,271.70 L218.40,271.70 L218.40,275.70 L219.50,275.70 L220.17,275.70 L220.17,281.00 L223.10,281.00 L223.79,281.00 L223.79,281.90 L228.40,281.90 L230.29,281.90 L230.29,284.60 L231.90,284.60 L232.59,284.60 L232.59,287.70 L234.00,287.70 L234.00,290.80 L234.60,290.80 L235.56,290.80 L235.56,292.60 L239.00,292.60 L240.31,292.60 L240.31,295.20 L244.30,295.20 L246.17,295.20 L246.17,297.00 L251.40,297.00 L255.57,297.00 L255.57,299.70 L256.80,299.70 L259.92,299.70 L259.92,303.20 L260.30,303.20 L262.11,303.20 L262.11,306.20 L262.83,306.20 L262.83,309.20 L264.60,309.20 L265.12,309.20 L265.12,310.40 L268.10,310.40 L271.03,310.40 L271.03,315.00 L271.50,315.00 L273.19,315.00 L273.19,319.80 L275.10,319.80 L278.23,319.80 L278.23,321.60 L279.50,321.60 L281.42,321.60 L281.42,322.50 L284.80,322.50 L287.36,322.50 L287.36,324.30 L290.20,324.30 L303.50,324.30 L304.37,324.30 L304.37,326.40 L305.20,326.40 L358.20,326.40 L358.70,331.80 L494.80,331.80" fill="none" stroke="#dc9022" stroke-width="2.3" stroke-linejoin="miter" stroke-miterlimit="3"/>
<path d="M109.74,49.95v4.8M112.54,52.82v4.8M106.96,47.09v4.8M107.66,47.80v4.8M110.77,51.00v4.8M106.16,46.27v4.8M113.08,59.30h4.2M113.09,59.32h4.2M114.29,61.43h4.2M112.28,57.90h4.2M113.72,60.42h4.2M116.16,64.71h4.2M116.95,66.19h4.2M122.70,71.00v4.8M118.39,69.04h4.2M116.55,65.41h4.2M119.14,70.53h4.2M119.53,71.30h4.2M124.13,81.42h4.2M124.81,83.00h4.2M123.33,79.54h4.2M122.15,76.81h4.2M124.32,81.84h4.2M128.31,92.65h4.2M125.86,85.76h4.2M126.87,88.61h4.2M127.88,91.46h4.2M126.22,86.78h4.2M134.16,100.32v4.8M131.36,100.85h4.2M133.98,99.84v4.8M132.46,95.78v4.8M130.31,98.04h4.2M128.92,94.33h4.2M128.66,93.62h4.2M137.03,107.62v4.8M134.99,110.16h4.2M134.44,108.77h4.2M135.26,110.84h4.2M133.43,106.23h4.2M139.08,112.23v4.8M136.07,112.84h4.2M139.16,112.40v4.8M142.35,118.71v4.8M139.57,113.21v4.8M143.22,121.33v4.8M142.14,127.21h4.2M144.33,125.12v4.8M143.82,123.38v4.8M144.41,125.41v4.8M144.40,136.88h4.2M143.65,133.21h4.2M144.22,135.98h4.2M144.74,138.51h4.2M143.15,130.74h4.2M145.83,142.37h4.2M144.98,139.56h4.2M146.77,145.46h4.2M148.88,143.10v4.8M145.08,139.89h4.2M152.56,153.08v4.8M150.72,156.13h4.2M152.74,153.52v4.8M150.91,156.60h4.2M148.32,150.03h4.2M156.25,162.24v4.8M155.48,160.34v4.8M153.37,162.72h4.2M151.46,157.99h4.2M153.83,163.84h4.2M152.25,159.94h4.2M155.03,167.03h4.2M155.63,168.86h4.2M157.22,164.88v4.8M158.30,177.58h4.2M156.08,170.28h4.2M159.28,171.48v4.8M159.04,170.69v4.8M157.45,174.79h4.2M161.12,177.30v4.8M159.30,180.40h4.2M161.51,178.28v4.8M162.12,187.51h4.2M160.42,183.22h4.2M162.70,189.34h4.2M165.24,188.39v4.8M165.00,187.62v4.8M162.97,190.23h4.2M164.09,193.93h4.2M166.68,202.71h4.2M167.11,204.16h4.2M167.10,204.15h4.2M165.90,200.01h4.2M168.10,197.99v4.8M167.24,195.03v4.8M168.55,207.79h4.2M171.39,213.14h4.2M171.36,206.72v4.8M168.66,208.00h4.2M171.98,207.89v4.8M173.93,217.45h4.2M172.88,215.70h4.2M174.58,218.54h4.2M175.66,220.54h4.2M177.65,224.58h4.2M175.52,220.24h4.2M178.02,225.33h4.2M181.68,225.03v4.8M183.24,226.79v4.8M183.79,227.41v4.8M181.10,224.38v4.8M182.99,231.86h4.2M183.76,233.37h4.2M183.22,232.30h4.2M187.13,233.46v4.8M190.38,237.93v4.8M187.54,234.06v4.8M188.47,235.33v4.8M193.12,242.47v4.8M189.84,242.89h4.2M190.51,244.01h4.2M195.55,245.77v4.8M193.95,243.79v4.8M195.60,245.83v4.8M197.36,248.03v4.8M199.95,251.15v4.8M200.39,251.67v4.8M199.83,251.01v4.8M203.05,254.19v4.8M202.57,253.83v4.8M207.90,257.71v4.8M205.85,256.23v4.8M206.47,256.68v4.8M210.15,259.35v4.8M209.31,258.73v4.8M211.48,260.31v4.8M215.95,264.37v4.8M215.64,264.07v4.8M216.28,264.70v4.8M216.47,272.83h4.2M215.61,270.20h4.2M215.05,268.48h4.2M218.93,271.56v4.8M218.30,277.03h4.2M219.04,278.11h4.2M218.87,277.87h4.2M224.07,278.76v4.8M226.57,279.19v4.8M227.22,279.30v4.8M230.11,280.82v4.8M231.81,282.13v4.8M228.53,279.60v4.8M232.33,283.20v4.8M232.34,290.43h4.2M230.07,285.23h4.2M233.36,285.55v4.8M237.41,289.55v4.8M238.25,289.89v4.8M236.90,289.34v4.8M244.02,292.66v4.8M240.11,290.75v4.8M242.63,291.98v4.8M249.72,294.17v4.8M245.17,293.02v4.8M251.29,294.57v4.8M246.82,293.44v4.8M252.88,295.34v4.8M253.56,295.68v4.8M251.47,294.64v4.8M253.66,295.73v4.8M259.24,299.74v4.8M258.03,298.53v4.8M257.73,298.23v4.8M263.49,305.25v4.8M264.34,306.44v4.8M262.57,303.96v4.8M261.24,302.11v4.8M265.97,307.27v4.8M265.34,307.05v4.8M270.74,311.57v4.8M270.85,311.72v4.8M270.26,310.92v4.8M269.70,310.16v4.8M272.31,313.68v4.8M274.97,317.23v4.8M272.77,314.30v4.8M278.70,318.87v4.8M278.69,318.87v4.8M281.06,319.46v4.8M282.41,319.69v4.8M280.16,319.31v4.8M286.72,320.74v4.8M289.39,321.63v4.8M286.24,320.58v4.8M303.93,322.43v4.8M304.22,322.79v4.8M311.40,324.00v4.8M317.70,324.00v4.8M353.20,324.00v4.8M358.00,324.00v4.8M388.50,329.40v4.8M400.60,329.40v4.8M401.40,329.40v4.8M473.90,329.40v4.8M485.80,329.40v4.8" stroke="#dc9022" stroke-width="1.1" fill="none"/>
<path d="M106.00,48.50 L108.60,57.30 L110.60,66.60 L112.60,77.20 L114.60,86.60 L116.90,95.00 L119.50,103.90 L122.20,112.70 L124.80,121.60 L126.60,130.50 L128.40,139.30 L130.20,148.20 L131.90,157.10 L133.70,166.00 L136.00,178.90 L138.60,187.70 L141.30,196.60 L144.80,206.40 L147.50,214.30 L150.20,223.20 L153.70,232.10 L155.50,241.00 L156.90,248.90 L160.40,257.70 L163.90,266.60 L167.50,275.50 L170.20,282.60 L175.50,286.10 L180.80,289.70 L183.50,296.80 L187.90,301.20 L193.20,305.60 L200.30,310.10 L207.10,314.70 L212.40,317.40 L219.60,318.50 L224.20,320.20 L228.80,320.80 L232.30,323.10 L238.10,324.20 L242.70,326.00 L247.30,328.30 L250.80,331.70 L253.80,335.20M270.70,337.60 L272.60,340.40M291.50,340.60 L292.60,342.30" fill="none" stroke="#b00c36" stroke-width="2.8" stroke-linejoin="round" stroke-linecap="butt"/>
<path d="M106.00,48.50 L106.23,48.50 L106.23,50.26 L106.82,50.26 L106.82,52.02 L107.10,52.02 L107.10,53.78 L107.90,53.78 L107.90,55.54 L108.48,55.54 L108.48,57.30 L108.60,57.30 L108.70,57.30 L108.70,59.16 L109.19,59.16 L109.19,61.02 L109.68,61.02 L109.68,62.88 L109.97,62.88 L109.97,64.74 L110.30,64.74 L110.30,66.60 L110.60,66.60 L110.68,66.60 L110.68,68.37 L111.10,68.37 L111.10,70.13 L111.30,70.13 L111.30,71.90 L111.87,71.90 L111.87,73.67 L112.18,73.67 L112.18,75.43 L112.49,75.43 L112.49,77.20 L112.60,77.20 L112.92,77.20 L112.92,79.08 L113.24,79.08 L113.24,80.96 L113.57,80.96 L113.57,82.84 L114.03,82.84 L114.03,84.72 L114.40,84.72 L114.40,86.60 L114.60,86.60 L115.01,86.60 L115.01,88.28 L115.40,88.28 L115.40,89.96 L115.66,89.96 L115.66,91.64 L116.36,91.64 L116.36,93.32 L116.76,93.32 L116.76,95.00 L116.90,95.00 L117.28,95.00 L117.28,96.78 L117.81,96.78 L117.81,98.56 L118.16,98.56 L118.16,100.34 L118.88,100.34 L118.88,102.12 L119.40,102.12 L119.40,103.90 L119.50,103.90 L119.85,103.90 L119.85,105.66 L120.43,105.66 L120.43,107.42 L120.96,107.42 L120.96,109.18 L121.35,109.18 L121.35,110.94 L122.03,110.94 L122.03,112.70 L122.20,112.70 L122.28,112.70 L122.28,114.48 L122.91,114.48 L122.91,116.26 L123.49,116.26 L123.49,118.04 L123.82,118.04 L123.82,119.82 L124.48,119.82 L124.48,121.60 L124.80,121.60 L125.02,121.60 L125.02,123.38 L125.38,123.38 L125.38,125.16 L125.62,125.16 L125.62,126.94 L126.19,126.94 L126.19,128.72 L126.47,128.72 L126.47,130.50 L126.60,130.50 L126.77,130.50 L126.77,132.70 L127.33,132.70 L127.33,134.90 L127.75,134.90 L127.75,137.10 L128.19,137.10 L128.19,139.30 L128.40,139.30 L128.59,139.30 L128.59,141.53 L129.25,141.53 L129.25,143.75 L129.58,143.75 L129.58,145.97 L130.05,145.97 L130.05,148.20 L130.20,148.20 L130.50,148.20 L130.50,150.42 L131.00,150.42 L131.00,152.65 L131.10,152.65 L131.10,154.88 L131.73,154.88 L131.73,157.10 L131.90,157.10 L132.21,157.10 L132.21,159.32 L132.49,159.32 L132.49,161.55 L132.99,161.55 L132.99,163.78 L133.31,163.78 L133.31,166.00 L133.70,166.00 L133.82,166.00 L133.82,168.58 L134.34,168.58 L134.34,171.16 L134.70,171.16 L134.70,173.74 L135.22,173.74 L135.22,176.32 L135.92,176.32 L135.92,178.90 L136.00,178.90 L136.35,178.90 L136.35,181.10 L136.98,181.10 L136.98,183.30 L137.87,183.30 L137.87,185.50 L138.31,185.50 L138.31,187.70 L138.60,187.70 L139.41,187.70 L139.41,190.67 L140.05,190.67 L140.05,193.63 L141.07,193.63 L141.07,196.60 L141.30,196.60 L141.44,196.60 L141.44,199.05 L142.68,199.05 L142.68,201.50 L143.67,201.50 L143.67,203.95 L144.04,203.95 L144.04,206.40 L144.80,206.40 L145.56,206.40 L145.56,209.03 L145.91,209.03 L145.91,211.67 L147.03,211.67 L147.03,214.30 L147.50,214.30 L147.71,214.30 L147.71,217.27 L148.85,217.27 L148.85,220.23 L149.83,220.23 L149.83,223.20 L150.20,223.20 L150.37,223.20 L150.37,226.17 L152.37,226.17 L152.37,229.13 L153.04,229.13 L153.04,232.10 L153.70,232.10 L154.01,232.10 L154.01,235.07 L154.65,235.07 L154.65,238.03 L155.14,238.03 L155.14,241.00 L155.50,241.00 L155.73,241.00 L155.73,244.95 L156.64,244.95 L156.64,248.90 L156.90,248.90 L157.54,248.90 L157.54,251.83 L158.45,251.83 L158.45,254.77 L160.02,254.77 L160.02,257.70 L160.40,257.70 L160.79,257.70 L160.79,260.67 L161.70,260.67 L161.70,263.63 L163.08,263.63 L163.08,266.60 L163.90,266.60 L164.06,266.60 L164.06,269.57 L165.37,269.57 L165.37,272.53 L167.14,272.53 L167.14,275.50 L167.50,275.50 L168.06,275.50 L168.06,279.05 L169.95,279.05 L169.95,282.60 L170.20,282.60 L173.90,282.60 L173.90,286.10 L175.50,286.10 L176.24,286.10 L176.24,289.70 L180.80,289.70 L182.00,289.70 L182.00,293.25 L183.31,293.25 L183.31,296.80 L183.50,296.80 L184.20,296.80 L184.20,301.20 L187.90,301.20 L192.27,301.20 L192.27,305.60 L193.20,305.60 L196.35,305.60 L196.35,310.10 L200.30,310.10 L203.58,310.10 L203.58,314.70 L207.10,314.70 L211.76,314.70 L211.76,317.40 L212.40,317.40 L214.52,317.40 L214.52,318.50 L219.60,318.50 L221.99,318.50 L221.99,320.20 L224.20,320.20 L228.11,320.20 L228.11,320.80 L228.80,320.80 L231.17,320.80 L231.17,323.10 L232.30,323.10 L235.05,323.10 L235.05,324.20 L238.10,324.20 L242.16,324.20 L242.16,326.00 L242.70,326.00 L246.17,326.00 L246.17,328.30 L247.30,328.30 L249.34,328.30 L249.34,331.70 L250.80,331.70 L251.38,331.70 L251.38,335.20 L253.80,335.20 L264.40,335.60 L265.30,337.50 L270.70,337.60 L271.84,337.60 L271.84,340.40 L272.60,340.40 L291.50,340.60 L292.01,340.60 L292.01,342.30 L292.60,342.30 L352.10,342.30 L352.50,346.40 L494.80,346.40" fill="none" stroke="#b00c36" stroke-width="2.3" stroke-linejoin="miter" stroke-miterlimit="3"/>
<path d="M106.01,46.12v4.8M104.63,50.97h4.2M104.68,51.16h4.2M105.01,52.27h4.2M105.61,54.30h4.2M108.41,54.27v4.8M110.26,62.60v4.8M108.07,64.59h4.2M108.16,65.03h4.2M106.53,57.44h4.2M108.40,66.15h4.2M107.00,59.63h4.2M111.07,66.68v4.8M109.19,70.27h4.2M112.41,73.78v4.8M110.94,65.98v4.8M111.82,70.65v4.8M111.94,71.29v4.8M112.18,72.55v4.8M111.89,83.71h4.2M111.98,84.17h4.2M112.27,85.50h4.2M111.03,79.69h4.2M110.78,78.51h4.2M110.62,77.75h4.2M113.63,90.73h4.2M115.84,88.73v4.8M114.62,84.26v4.8M113.58,90.53h4.2M116.13,89.79v4.8M113.36,89.75h4.2M115.00,95.67h4.2M116.45,100.66h4.2M116.39,100.43h4.2M117.22,103.29h4.2M117.35,103.74h4.2M119.82,111.80h4.2M119.34,110.22h4.2M120.41,104.48v4.8M118.39,107.12h4.2M120.92,106.12v4.8M117.97,105.75h4.2M123.64,115.23v4.8M122.96,112.91v4.8M121.15,116.29h4.2M120.81,115.12h4.2M122.63,121.38h4.2M122.16,119.75h4.2M123.24,124.26h4.2M125.94,124.85v4.8M124.87,119.56v4.8M124.29,129.48h4.2M122.79,122.04h4.2M122.71,121.66h4.2M125.60,135.86h4.2M128.02,135.04v4.8M125.60,135.88h4.2M125.63,136.02h4.2M125.57,135.75h4.2M127.50,145.24h4.2M127.67,146.09h4.2M126.63,140.91h4.2M129.79,143.79v4.8M127.48,145.14h4.2M129.88,144.22v4.8M128.54,150.50h4.2M128.82,151.95h4.2M128.83,152.03h4.2M129.69,156.51h4.2M129.06,153.25h4.2M131.26,164.31h4.2M131.45,165.28h4.2M129.83,157.23h4.2M132.97,159.97v4.8M131.57,165.83h4.2M130.54,160.77h4.2M132.09,168.74h4.2M131.64,166.20h4.2M133.17,174.82h4.2M133.82,178.47h4.2M133.60,177.22h4.2M133.74,163.83v4.8M134.26,166.73v4.8M132.03,168.42h4.2M137.86,182.78v4.8M135.80,185.32h4.2M137.63,182.03v4.8M137.20,180.55v4.8M136.66,178.74v4.8M136.53,187.80h4.2M140.36,191.09v4.8M136.72,188.41h4.2M138.47,194.19h4.2M138.82,195.36h4.2M140.49,200.20h4.2M140.74,200.90h4.2M141.81,195.62v4.8M140.47,200.16h4.2M141.40,202.77h4.2M142.65,197.98v4.8M144.61,203.46v4.8M143.49,208.71h4.2M147.43,211.69v4.8M144.93,212.94h4.2M146.44,208.79v4.8M144.94,212.97h4.2M148.66,215.71v4.8M146.42,217.65h4.2M149.12,217.26v4.8M147.58,221.49h4.2M145.40,214.31h4.2M146.54,218.06h4.2M151.21,231.10h4.2M153.12,228.22v4.8M151.14,230.92h4.2M151.16,223.24v4.8M150.92,230.38h4.2M152.22,235.19h4.2M154.70,234.63v4.8M154.06,231.48v4.8M153.28,240.39h4.2M152.69,237.50h4.2M153.69,242.63h4.2M156.55,244.53v4.8M154.04,244.63h4.2M156.63,244.97v4.8M153.73,242.84h4.2M157.90,256.69h4.2M156.47,253.09h4.2M155.46,250.56h4.2M157.53,248.09v4.8M156.07,252.09h4.2M160.11,262.30h4.2M160.56,255.70v4.8M159.61,261.03h4.2M162.61,260.93v4.8M158.85,259.09h4.2M159.51,260.77h4.2M164.02,264.50v4.8M164.92,274.31h4.2M163.84,271.65h4.2M164.61,273.53h4.2M167.31,272.62v4.8M166.85,271.49v4.8M165.50,275.77h4.2M165.89,276.78h4.2M165.54,275.86h4.2M167.75,281.68h4.2M170.06,279.83v4.8M173.37,282.29v4.8M172.31,281.59v4.8M170.84,280.62v4.8M175.28,283.56v4.8M178.49,285.73v4.8M178.90,286.01v4.8M180.57,287.14v4.8M179.05,286.11v4.8M179.91,292.88h4.2M183.41,294.16v4.8M179.30,291.27h4.2M179.39,291.52h4.2M183.24,293.71v4.8M183.71,294.61v4.8M186.96,297.86v4.8M186.62,297.52v4.8M193.12,303.14v4.8M188.20,299.05v4.8M188.67,299.44v4.8M191.90,302.12v4.8M198.01,306.25v4.8M195.32,304.54v4.8M197.40,305.86v4.8M198.58,306.61v4.8M193.95,303.67v4.8M202.05,308.88v4.8M201.14,308.27v4.8M203.57,309.91v4.8M201.45,308.48v4.8M201.92,308.80v4.8M210.69,314.13v4.8M207.17,312.33v4.8M210.90,314.24v4.8M208.13,312.83v4.8M219.08,316.02v4.8M213.99,315.24v4.8M219.12,316.03v4.8M218.64,315.95v4.8M218.80,315.98v4.8M221.66,316.86v4.8M220.05,316.26v4.8M223.87,317.68v4.8M227.09,318.18v4.8M226.28,318.07v4.8M231.68,320.29v4.8M230.47,319.50v4.8M231.00,319.84v4.8M233.59,320.94v4.8M232.63,320.76v4.8M236.44,321.49v4.8M235.51,321.31v4.8M242.11,323.37v4.8M239.33,322.28v4.8M239.99,322.54v4.8M243.95,324.22v4.8M246.56,325.53v4.8M244.24,324.37v4.8M249.02,327.57v4.8M248.41,326.98v4.8M250.46,328.97v4.8M253.74,332.73v4.8M250.97,329.50v4.8M253.49,332.43v4.8M266.44,335.12v4.8M267.88,335.15v4.8M266.85,335.13v4.8M268.98,338.16h4.2M272.58,337.97v4.8M289.51,340.77h4.2M269.20,335.17v4.8M270.30,335.19v4.8M290.40,338.19v4.8M305.20,339.90v4.8M362.50,344.00v4.8M406.60,344.00v4.8" stroke="#b00c36" stroke-width="1.1" fill="none"/>

<g stroke="#000" stroke-width="1.5" stroke-dasharray="4.3 4.67" fill="none"><line x1="106.0" y1="205.6" x2="492" y2="205.6"/></g>
<g stroke="#000" stroke-width="1.6" stroke-dasharray="4.2 2.5" fill="none"><line x1="144.8" y1="205.6" x2="144.8" y2="362.2"/><line x1="169.3" y1="205.6" x2="169.3" y2="362.2"/><line x1="211.9" y1="205.6" x2="211.9" y2="362.2"/><line x1="276.1" y1="205.6" x2="276.1" y2="362.2"/><line x1="329.4" y1="205.6" x2="329.4" y2="362.2"/></g>
<g stroke="#000" stroke-width="1.7" fill="none">
<polyline points="88.05,42.1 88.05,377.5 494.6,377.5" stroke-width="1.9"/>
<line x1="106.20" y1="377.5" x2="106.20" y2="384" /><line x1="143.22" y1="377.5" x2="143.22" y2="384" /><line x1="180.24" y1="377.5" x2="180.24" y2="384" /><line x1="217.26" y1="377.5" x2="217.26" y2="384" /><line x1="254.28" y1="377.5" x2="254.28" y2="384" /><line x1="291.30" y1="377.5" x2="291.30" y2="384" /><line x1="328.32" y1="377.5" x2="328.32" y2="384" /><line x1="365.34" y1="377.5" x2="365.34" y2="384" /><line x1="402.36" y1="377.5" x2="402.36" y2="384" /><line x1="439.38" y1="377.5" x2="439.38" y2="384" /><line x1="476.40" y1="377.5" x2="476.40" y2="384" /><line x1="81.5" y1="361.80" x2="88" y2="361.80" /><line x1="81.5" y1="283.62" x2="88" y2="283.62" /><line x1="81.5" y1="205.45" x2="88" y2="205.45" /><line x1="81.5" y1="127.28" x2="88" y2="127.28" /><line x1="81.5" y1="49.10" x2="88" y2="49.10" />
</g>
<g style="will-change:transform">
<g fill="#1a1a1a"><text x="76.93" y="30.50" font-size="19.80" textLength="62.94" lengthAdjust="spacingAndGlyphs" fill="#1a1a1a">Patient</text><text x="146.33" y="30.50" font-size="19.80" textLength="68.76" lengthAdjust="spacingAndGlyphs" fill="#1a1a1a">Survival</text><text x="221.21" y="30.50" font-size="19.80" textLength="54.71" lengthAdjust="spacingAndGlyphs" fill="#1a1a1a">Based</text><text x="282.03" y="30.50" font-size="19.80" textLength="22.75" lengthAdjust="spacingAndGlyphs" fill="#1a1a1a">on</text><text x="310.57" y="30.50" font-size="19.80" textLength="64.26" lengthAdjust="spacingAndGlyphs" fill="#1a1a1a">IPSS-M</text><text x="381.03" y="30.50" font-size="19.80" textLength="34.66" lengthAdjust="spacingAndGlyphs" fill="#1a1a1a">Risk</text><text x="422.27" y="30.50" font-size="19.80" textLength="83.28" lengthAdjust="spacingAndGlyphs" fill="#1a1a1a">Category</text></g>
<g font-size="16.4" fill="#1a1a1a"><text x="106.40" y="404.6" text-anchor="middle">0</text><text x="143.42" y="404.6" text-anchor="middle">1</text><text x="180.44" y="404.6" text-anchor="middle">2</text><text x="217.46" y="404.6" text-anchor="middle">3</text><text x="254.48" y="404.6" text-anchor="middle">4</text><text x="291.50" y="404.6" text-anchor="middle">5</text><text x="328.52" y="404.6" text-anchor="middle">6</text><text x="365.54" y="404.6" text-anchor="middle">7</text><text x="402.56" y="404.6" text-anchor="middle">8</text><text x="439.58" y="404.6" text-anchor="middle">9</text><text x="476.60" y="404.6" text-anchor="middle">10</text><text x="74.9" y="367.10" text-anchor="end">0.00</text><text x="74.9" y="288.93" text-anchor="end">0.25</text><text x="74.9" y="210.75" text-anchor="end">0.50</text><text x="74.9" y="132.58" text-anchor="end">0.75</text><text x="74.9" y="54.40" text-anchor="end">1.00</text></g>
<text x="-0.76" y="0" font-size="20.0" fill="#1a1a1a" transform="translate(31,259.3) rotate(-90)" textLength="100.21" lengthAdjust="spacingAndGlyphs">OS probability</text>
<text x="273.17" y="431.70" font-size="20.00" textLength="36.75" lengthAdjust="spacingAndGlyphs" fill="#1a1a1a">Years</text>
<text x="406.77" y="60.50" font-size="16.40" textLength="9.53" lengthAdjust="spacingAndGlyphs" fill="#1a1a1a" font-style="italic">P</text><text x="420.98" y="60.50" font-size="16.40" textLength="9.09" lengthAdjust="spacingAndGlyphs" fill="#1a1a1a">&lt;</text><text x="433.92" y="60.50" font-size="16.40" textLength="39.93" lengthAdjust="spacingAndGlyphs" fill="#1a1a1a">.0001</text>
<text x="405.67" y="161.50" font-size="17.00" textLength="18.84" lengthAdjust="spacingAndGlyphs" fill="#0f5e42">VL</text><text x="405.84" y="238.60" font-size="17.00" textLength="8.47" lengthAdjust="spacingAndGlyphs" fill="#0e366b">L</text><text x="399.55" y="281.60" font-size="17.00" textLength="24.45" lengthAdjust="spacingAndGlyphs" fill="#857dbd">ML</text><text x="396.51" y="317.30" font-size="17.00" textLength="28.08" lengthAdjust="spacingAndGlyphs" fill="#420f5c">MH</text><text x="439.42" y="327.90" font-size="17.00" textLength="12.05" lengthAdjust="spacingAndGlyphs" fill="#dc9022">H</text><text x="401.32" y="364.40" font-size="17.00" textLength="22.18" lengthAdjust="spacingAndGlyphs" fill="#b00c36">VH</text>
</g>
</svg>
</body></html>
